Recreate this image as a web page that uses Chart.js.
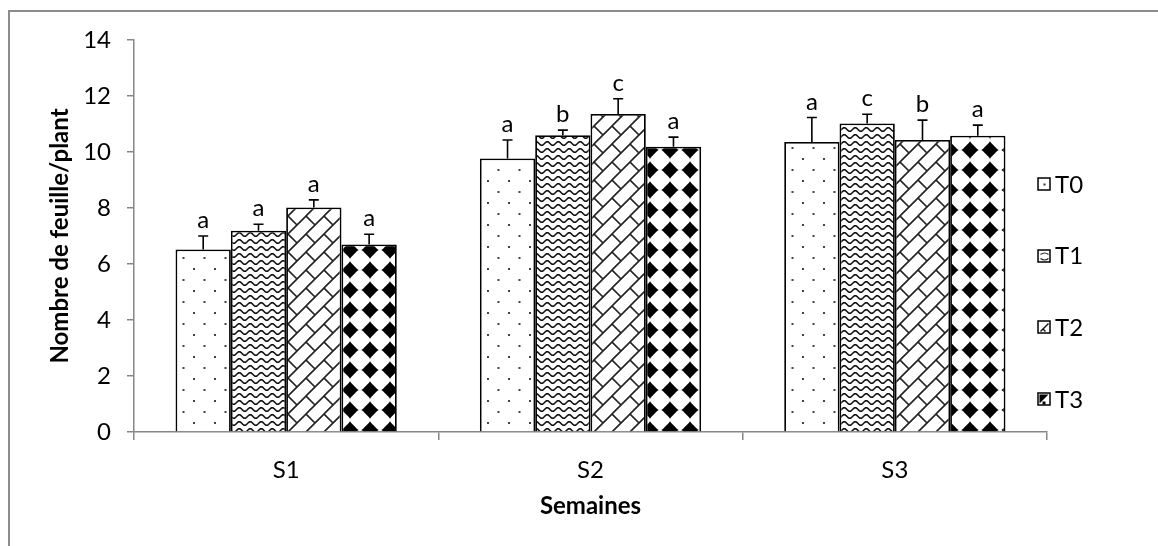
<!DOCTYPE html>
<html>
<head>
<meta charset="utf-8">
<script src="https://cdn.jsdelivr.net/npm/chart.js@4"></script>
<style>
  html, body { margin: 0; padding: 0; background: #fff; }
  #wrap { width: 1158px; height: 546px; position: relative; }
</style>
</head>
<body>
<div id="wrap"><canvas id="chart" width="1158" height="546"></canvas></div>
<script>
// Data
const weeks = ['S1', 'S2', 'S3'];
const treatments = ['T0', 'T1', 'T2', 'T3'];
const meanT0 = [6.52, 9.77, 10.36];
const meanT1 = [7.19, 10.60, 11.02];
const meanT2 = [8.02, 11.36, 10.43];
const meanT3 = [6.70, 10.19, 10.58];
const sdT0 = [0.48, 0.66, 0.87];
const sdT1 = [0.23, 0.18, 0.33];
const sdT2 = [0.27, 0.54, 0.71];
const sdT3 = [0.36, 0.34, 0.38];
const lettersT0 = ['a', 'a', 'a'];
const lettersT1 = ['a', 'b', 'c'];
const lettersT2 = ['a', 'c', 'b'];
const lettersT3 = ['a', 'a', 'a'];

const FONT = 'Lato, "Open Sans", sans-serif';
const AXIS_GREY = '#868686';

// --- fill patterns -------------------------------------------------------
function makeTile(w, h, draw) {
    const c = document.createElement('canvas');
    c.width = w; c.height = h;
    const g = c.getContext('2d');
    g.fillStyle = '#fff';
    g.fillRect(0, 0, w, h);
    draw(g, w, h);
    return document.getElementById('chart').getContext('2d').createPattern(c, 'repeat');
}

// T0: sparse staggered dots
const patDots = makeTile(21, 22, (g) => {
    g.fillStyle = '#444';
    g.fillRect(4, 4, 2, 2);
    g.fillRect(14.5, 15, 2, 2);
});

// T1: wavy horizontal lines
const patWaves = makeTile(11, 7, (g, w) => {
    g.strokeStyle = '#111';
    g.lineWidth = 1.6;
    g.beginPath();
    for (let x = -1; x <= w + 1; x += 0.5) {
        const y = 3.5 + 1.8 * Math.sin((x / w) * Math.PI * 2);
        if (x === -1) g.moveTo(x, y); else g.lineTo(x, y);
    }
    g.stroke();
});

// T2: diagonal bricks
const patBricks = makeTile(18, 18, (g, s) => {
    g.strokeStyle = '#222';
    g.lineWidth = 1.6;
    g.beginPath();
    for (let k = -1; k <= 2; k++) {
        g.moveTo(k * s - s - 2, s + 2);
        g.lineTo(k * s + 2, -2);
    }
    for (let m = -1; m <= 1; m++) {
        for (let n = -1; n <= 1; n++) {
            g.moveTo(m * s, n * s);
            g.lineTo(m * s + s / 2, n * s + s / 2);
        }
    }
    g.stroke();
});

// T3: black diamonds, almost touching at the tips
const patDiamonds = makeTile(20, 20, (g) => {
    g.fillStyle = '#000';
    g.beginPath();
    g.moveTo(10, 0.8);
    g.quadraticCurveTo(10.6, 9.4, 19.2, 10);
    g.quadraticCurveTo(10.6, 10.6, 10, 19.2);
    g.quadraticCurveTo(9.4, 10.6, 0.8, 10);
    g.quadraticCurveTo(9.4, 9.4, 10, 0.8);
    g.fill();
    g.beginPath();
    g.moveTo(10, 1.8); g.lineTo(18.2, 10); g.lineTo(10, 18.2); g.lineTo(1.8, 10);
    g.closePath();
    g.fill();
});

const patterns = [patDots, patWaves, patBricks, patDiamonds];
const means = [meanT0, meanT1, meanT2, meanT3];
const sds = [sdT0, sdT1, sdT2, sdT3];
const letters = [lettersT0, lettersT1, lettersT2, lettersT3];

// small legend swatches, drawn like the Excel sample boxes
const swatches = [
    (ctx, x, y) => { ctx.fillStyle = '#333'; ctx.fillRect(x + 4, y + 4, 2, 2); },
    (ctx, x, y) => {
        ctx.strokeStyle = '#222'; ctx.lineWidth = 1.2;
        ctx.beginPath();
        ctx.moveTo(x + 1, y + 3); ctx.quadraticCurveTo(x + 5, y + 0, x + 9, y + 3);
        ctx.moveTo(x + 1, y + 7); ctx.quadraticCurveTo(x + 5, y + 10, x + 9, y + 7);
        ctx.stroke();
    },
    (ctx, x, y) => {
        ctx.strokeStyle = '#111'; ctx.lineWidth = 1.4;
        ctx.beginPath();
        ctx.moveTo(x + 1, y + 9); ctx.lineTo(x + 9, y + 1);
        ctx.moveTo(x + 3, y + 6); ctx.lineTo(x + 6, y + 9);
        ctx.stroke();
    },
    (ctx, x, y) => {
        ctx.fillStyle = '#000';
        ctx.beginPath();
        ctx.moveTo(x, y); ctx.lineTo(x + 9, y); ctx.lineTo(x, y + 9);
        ctx.closePath(); ctx.fill();
        ctx.fillRect(x + 3, y + 7, 3, 3);
    }
];

// --- plugins -------------------------------------------------------------
const frame = {
    id: 'frame',
    beforeDraw(chart) {
        const ctx = chart.ctx;
        ctx.save();
        ctx.strokeStyle = '#8c8c8c';
        ctx.lineWidth = 2;
        ctx.strokeRect(9, 11, 1400, 800);
        ctx.restore();
    }
};

const errorBars = {
    id: 'errorBars',
    afterDatasetsDraw(chart) {
        const ctx = chart.ctx;
        const y = chart.scales.y;
        ctx.save();
        ctx.strokeStyle = '#000';
        ctx.lineWidth = 1.6;
        ctx.fillStyle = '#000';
        ctx.font = '24px ' + FONT;
        ctx.textAlign = 'center';
        ctx.textBaseline = 'alphabetic';
        chart.data.datasets.forEach((ds, i) => {
            chart.getDatasetMeta(i).data.forEach((bar, j) => {
                const top = y.getPixelForValue(ds.data[j] + sds[i][j]);
                ctx.beginPath();
                ctx.moveTo(bar.x, bar.y);
                ctx.lineTo(bar.x, top);
                ctx.moveTo(bar.x - 5, top);
                ctx.lineTo(bar.x + 5, top);
                ctx.stroke();
                ctx.fillText(letters[i][j], bar.x, top - 8);
            });
        });
        ctx.restore();
    }
};

const sideLegend = {
    id: 'sideLegend',
    afterDraw(chart) {
        const ctx = chart.ctx;
        ctx.save();
        treatments.forEach((t, i) => {
            const cy = 184 + i * 71.7;
            const bx = 1038, by = Math.round(cy - 6);
            ctx.fillStyle = '#fff';
            ctx.fillRect(bx, by, 12, 12);
            ctx.save();
            swatches[i](ctx, bx + 1.5, by + 1.5);
            ctx.restore();
            ctx.strokeStyle = '#000';
            ctx.lineWidth = 1.5;
            ctx.strokeRect(bx, by, 12, 12);
            ctx.fillStyle = '#000';
            ctx.font = '24px ' + FONT;
            ctx.textBaseline = 'middle';
            ctx.textAlign = 'left';
            ctx.fillText(t, 1055, cy + 1);
        });
        ctx.restore();
    }
};

new Chart(document.getElementById('chart'), {
    type: 'bar',
    data: {
        labels: weeks,
        datasets: treatments.map((t, i) => ({
            label: t,
            data: means[i],
            backgroundColor: patterns[i],
            borderColor: '#000',
            borderWidth: 1.8,
            barPercentage: 1,
            categoryPercentage: 0.727
        }))
    },
    options: {
        responsive: false,
        animation: false,
        layout: { padding: { left: 0, right: 111, top: 40, bottom: 0 } },
        plugins: { legend: { display: false }, tooltip: { enabled: false } },
        scales: {
            x: {
                offset: true,
                grid: { offset: true, drawOnChartArea: false, tickLength: 8, color: AXIS_GREY, lineWidth: 1.5 },
                border: { color: AXIS_GREY, width: 1.5 },
                ticks: { color: '#000', font: { family: FONT, size: 24 }, padding: 16 },
                title: {
                    display: true, text: 'Semaines', color: '#000',
                    font: { family: FONT, size: 24, weight: 'bold' },
                    padding: { top: 0, bottom: 25 }
                },
                afterFit(s) { s.height = 114; }
            },
            y: {
                min: 0, max: 14,
                ticks: { stepSize: 2, color: '#000', font: { family: FONT, size: 24 }, padding: 16 },
                grid: { drawOnChartArea: false, tickLength: 7, color: AXIS_GREY, lineWidth: 1.5 },
                border: { color: AXIS_GREY, width: 1.5 },
                title: {
                    display: true, text: 'Nombre de feuille/plant', color: '#000',
                    font: { family: FONT, size: 24, weight: 'bold' },
                    padding: { top: 46, bottom: 0 }
                },
                afterFit(s) { s.width = 134; }
            }
        }
    },
    plugins: [frame, errorBars, sideLegend]
});
</script>
</body>
</html>
